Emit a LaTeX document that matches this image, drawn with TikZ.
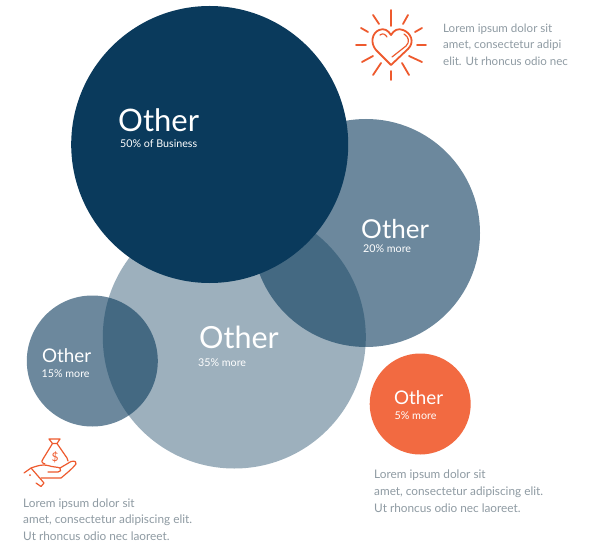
\documentclass[tikz,border=0pt]{standalone}
\usepackage{fontspec}
\setmainfont{Lato}
\definecolor{navy}{HTML}{0A3A5C}
\definecolor{orng}{HTML}{F26A41}
\definecolor{icon}{HTML}{EE5A2E}
\definecolor{body}{HTML}{8F9BA3}
\tikzset{
  x=1pt,y=-1pt,
  bub/.style={circle,fill=navy,draw=none,inner sep=0pt,minimum size=#1},
  bigt/.style={anchor=base west,inner sep=0pt,text=white},
  subt/.style={anchor=base west,inner sep=0pt,text=white,font=\fontsize{10.7}{12}\selectfont},
  lorem/.style={anchor=north west,inner sep=0pt,align=left,text=body,font=\fontsize{11.8}{16.6}\selectfont},
  ic/.style={draw=icon,line width=1.8pt,line cap=round,line join=round},
  icthin/.style={draw=icon,line width=1.2pt,line cap=round,line join=round}
}
\begin{document}
\begin{tikzpicture}
\useasboundingbox (0,0) rectangle (596,545);
\fill[white] (0,0) rectangle (596,545);
\node[bub=263pt,fill opacity=.4] (mid) at (234.3,337) {};
\node[bub=228pt,fill opacity=.6] (right) at (366,233) {};
\node[bub=131pt,fill opacity=.6] (small) at (92.3,361) {};
\node[bub=277pt] (top) at (209.7,144.5) {};
\node[bub=101pt,fill=orng] (orange) at (420.2,404) {};

\node[bigt,font=\fontsize{31}{36}\selectfont] (t1) at (118,132) {Other};
\node[subt] (s1) at (120,148) {50\% of Business};
\node[bigt,font=\fontsize{26}{30}\selectfont] (t2) at (361,238) {Other};
\node[subt] (s2) at (363,252) {20\% more};
\node[bigt,font=\fontsize{30.5}{36}\selectfont] (t3) at (199,348) {Other};
\node[subt] (s3) at (198,366) {35\% more};
\node[bigt,font=\fontsize{18.8}{24}\selectfont] (t4) at (42,362) {Other};
\node[subt] (s4) at (41.5,377) {15\% more};
\node[bigt,font=\fontsize{18.8}{24}\selectfont] (t5) at (394,404) {Other};
\node[subt] (s5) at (394.5,419) {5\% more};

\node[lorem,font=\fontsize{11.55}{16.6}\selectfont] (l1) at (443,23.5) {Lorem ipsum dolor sit\\amet, consectetur adipi\\elit. Ut rhoncus odio nec};
\node[lorem] (l2) at (374,470) {Lorem ipsum dolor sit\\amet, consectetur adipiscing elit.\\Ut rhoncus odio nec laoreet.};
\node[lorem] (l3) at (23,498.5) {Lorem ipsum dolor sit\\amet, consectetur adipiscing elit.\\Ut rhoncus odio nec laoreet.};

% heart icon
\draw[ic] (391,65) -- (376,50) .. controls (370,43) and (372,33) .. (379,30)
  .. controls (384,28) and (388,30) .. (391,35)
  .. controls (394,30) and (398,28) .. (403,30)
  .. controls (411,33) and (415,42) .. (408,49) -- cycle;
\draw[ic,line width=1.2pt] (380,35) .. controls (383,33) and (385,34) .. (387,37);
\draw[ic,line width=1.2pt] (404,34) .. controls (409,37) and (410,42) .. (406,46) -- (392,57);
\draw[ic] (391,10)--(391,26) (391,71)--(391,80) (356,45)--(366,45) (417,45)--(426,45)
  (373,15)--(379,24) (408,15)--(403,24) (361,28)--(368,32) (415,32)--(422,28)
  (362,62)--(373,56) (409,56)--(422,62) (373,75)--(381,63) (402,63)--(409,75);

% money icon
\draw[icthin] (49,439) -- (60,439) -- (57,443.5) -- (52.5,443.5) -- cycle;
\draw[icthin] (52.5,443.5) -- (43,459) .. controls (41,462) and (42,463) .. (45,464);
\draw[icthin] (57,443.5) -- (67,458) -- (68,461);
\node[inner sep=0pt,text=icon,font=\fontsize{12}{12}\selectfont] (dollar) at (55,457) {\$};
\draw[icthin] (24,473) -- (31,468) -- (44,483) -- (41,486.5) -- (36,483);
\draw[icthin] (31,468) .. controls (37,466) and (42,464) .. (48,465.5)
  .. controls (52,467) and (58,467) .. (60,468) .. controls (62,470) and (60,472) .. (58,472) -- (48,472);
\draw[icthin] (60,468) -- (71,461.5) .. controls (75,460.5) and (77,462) .. (76,464)
  .. controls (72,469) and (67,473) .. (61,478) -- (41,478);
\fill[icon] (30,475) circle (1pt);
\end{tikzpicture}
\end{document}
